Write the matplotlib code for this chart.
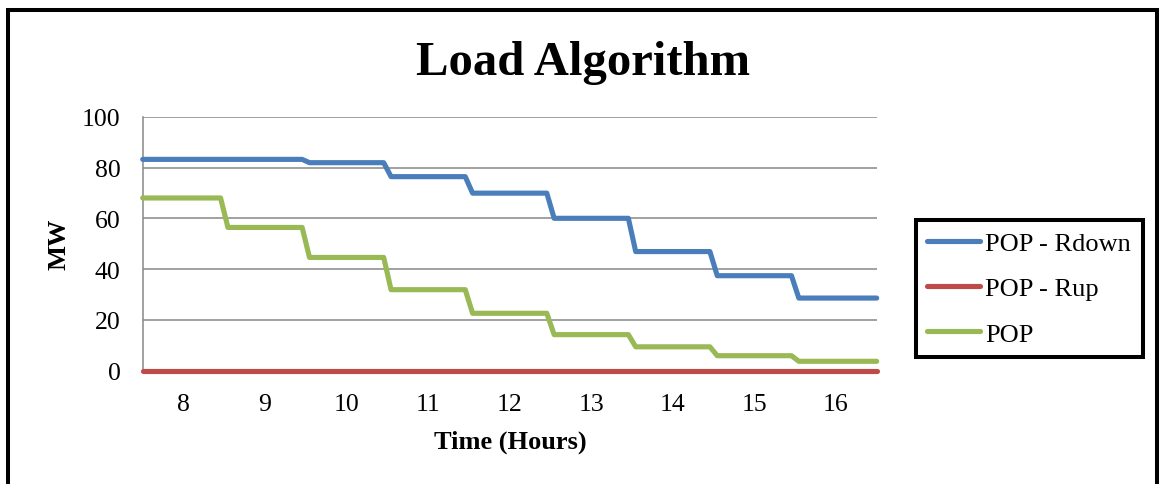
import matplotlib
matplotlib.use("Agg")
import matplotlib.pyplot as plt
from matplotlib.patches import Rectangle

plt.rcParams['font.family'] = ['Liberation Serif', 'DejaVu Serif']

# Hourly load values (MW)
hours = [8, 9, 10, 11, 12, 13, 14, 15, 16]
pop_rdown = [83.2, 83.2, 81.9, 76.4, 69.9, 60.0, 46.9, 37.4, 28.6]
pop_rup = [0, 0, 0, 0, 0, 0, 0, 0, 0]
pop = [68.0, 56.4, 44.6, 31.9, 22.6, 14.2, 9.4, 5.9, 3.7]

series_names = ["POP - Rdown", "POP - Rup", "POP"]
series_colors = ["#4A7EBB", "#BE4B48", "#98B954"]

RAMP = 0.045  # half-width (hours) of the sloped change between hourly levels


def step_path(hrs, vals):
    xs, ys = [], []
    n = len(hrs)
    for i, (h, v) in enumerate(zip(hrs, vals)):
        start = h - 0.5 + (RAMP if i > 0 else 0)
        end = h + 0.5 - (RAMP if i < n - 1 else 0)
        xs += [start, end]
        ys += [v, v]
    return xs, ys


W, H = 1160, 485
fig = plt.figure(figsize=(W / 100, H / 100), dpi=100)

# outer chart frame
fig.patches.append(Rectangle((7.5 / W, -0.05), (1157 - 7.5) / W, 1.05 - 10.5 / H,
                             transform=fig.transFigure, fill=False,
                             edgecolor="black", linewidth=2.9, clip_on=False))

left, right = 142.7, 876.7
top, bottom = 117.7, 371.7
ax = fig.add_axes([left / W, 1 - bottom / H, (right - left) / W, (bottom - top) / H])

for vals, name, col in zip([pop_rdown, pop_rup, pop], series_names, series_colors):
    xs, ys = step_path(hours, vals)
    ax.plot(xs, ys, color=col, linewidth=3.7, solid_capstyle="round",
            solid_joinstyle="round", label=name, clip_on=False, zorder=3)

ax.set_xlim(hours[0] - 0.5, hours[-1] + 0.5)
ax.set_ylim(0, 100)
ax.set_yticks(range(0, 101, 20))
ax.set_xticks(hours)
ax.set_xticklabels([str(h) for h in hours])
ax.tick_params(axis="both", length=0, labelsize=18.5)
ax.tick_params(axis="y", pad=16)
ax.tick_params(axis="x", pad=16)

ax.grid(axis="y", color="#878787", linewidth=1.1)
ax.set_axisbelow(True)
for s in ["top", "right"]:
    ax.spines[s].set_visible(False)
for s in ["left", "bottom"]:
    ax.spines[s].set_color("#878787")
    ax.spines[s].set_linewidth(1.1)

ax.set_ylabel("MW", fontsize=19, fontweight="bold", va="center")
ax.yaxis.set_label_coords((58.5 - left) / (right - left), 0.5)
ax.set_xlabel("Time (Hours)", fontsize=19, fontweight="bold", va="center")
ax.xaxis.set_label_coords((510 - left) / (right - left), (bottom - 442) / (bottom - top))

fig.text(583 / W, 1 - 75 / H, "Load Algorithm", fontsize=35, fontweight="bold",
         ha="center", va="baseline")

leg = ax.legend(loc="upper left", bbox_to_anchor=(915.5 / W, 1 - 221 / H),
                bbox_transform=fig.transFigure, borderaxespad=0,
                fontsize=19, handlelength=2.0, handletextpad=0.2,
                labelspacing=0.82, borderpad=0.45, fancybox=False,
                framealpha=1, edgecolor="black")
leg.get_frame().set_linewidth(2.9)

fig.savefig("out.png", dpi=100)
